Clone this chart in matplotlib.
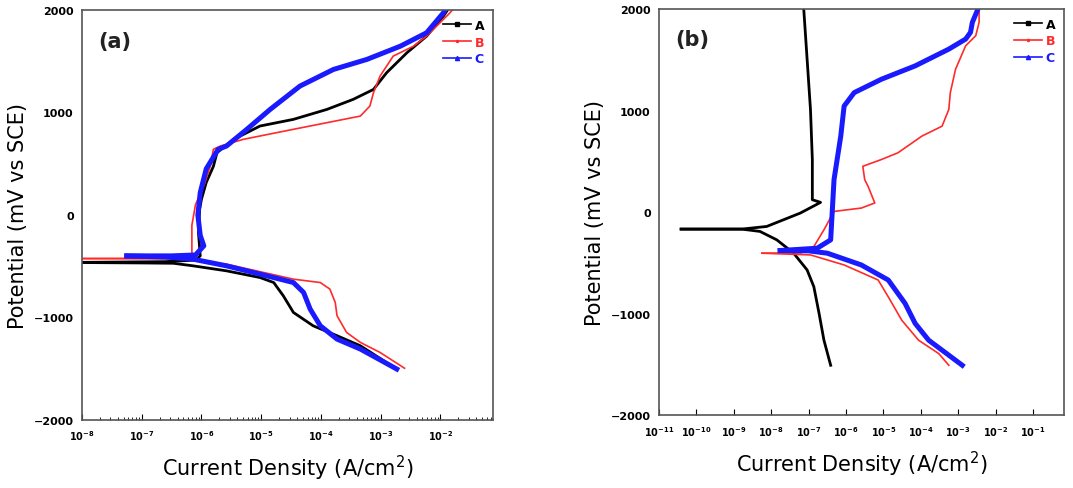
import numpy as np
import matplotlib.pyplot as plt
from matplotlib.lines import Line2D

# ---- panel (a): log10 current density (A/cm2) and potential (mV vs SCE) ----
a_A_cat_logi = [-8.0, -7.0, -6.47, -6.14, -5.58, -5.02, -4.79, -4.63, -4.46, -4.13, -3.73, -3.34, -2.73]
a_A_cat_E = [-464, -468, -471, -496, -545, -610, -659, -788, -951, -1081, -1178, -1276, -1503]
a_A_an_logi = [-8.0, -6.6, -6.1, -6.02, -6.05, -6.03, -6.0, -5.92, -5.80, -5.74, -5.46, -5.02,
               -4.46, -3.90, -3.46, -3.12, -2.90, -2.56, -2.23, -1.95, -1.88]
a_A_an_E = [-462, -455, -440, -399, -171, 56, 153, 317, 475, 608, 738, 868,
            933, 1030, 1128, 1225, 1388, 1583, 1745, 1940, 2000]

a_B_cat_logi = [-8.0, -7.0, -6.53, -6.2, -5.58, -4.46, -4.01, -3.85, -3.76, -3.73, -3.57, -3.34,
                -3.01, -2.60]
a_B_cat_E = [-425, -425, -425, -440, -480, -626, -659, -723, -853, -983, -1146, -1243,
             -1341, -1495]
a_B_an_logi = [-8.0, -6.53, -6.2, -6.16, -6.16, -6.1, -5.95, -5.85, -5.80, -5.68, -5.30, -4.46,
               -3.34, -3.18, -3.12, -3.01, -2.79, -2.45, -2.23, -1.84, -1.80]
a_B_an_E = [-425, -425, -410, -380, -100, 100, 300, 480, 641, 673, 738, 836,
            965, 1063, 1193, 1355, 1550, 1647, 1745, 1972, 2000]

a_C_cat_logi = [-7.25, -6.6, -6.14, -5.58, -5.02, -4.46, -4.29, -4.18, -4.01, -3.73, -3.34, -2.73]
a_C_cat_E = [-399, -410, -431, -496, -577, -659, -756, -918, -1081, -1211, -1308, -1503]
a_C_an_logi = [-7.25, -6.5, -6.1, -5.96, -6.02, -6.06, -6.02, -5.92, -5.72, -5.58, -5.24, -4.85,
               -4.35, -3.79, -3.23, -2.67, -2.23, -1.95, -1.92]
a_C_an_E = [-399, -399, -390, -301, -200, 0, 219, 450, 641, 673, 836, 1030,
            1258, 1420, 1518, 1647, 1778, 1972, 2000]

# ---- panel (b) ----
b_A_cat_logi = [-10.41, -8.79, -8.30, -7.85, -7.40, -7.04, -6.86, -6.72, -6.59, -6.41]
b_A_cat_E = [-166, -166, -189, -272, -403, -568, -733, -996, -1259, -1506]
b_A_an_logi = [-10.41, -8.79, -8.12, -7.22, -6.68, -6.90, -6.90, -6.95, -7.04, -7.13]
b_A_an_E = [-166, -166, -140, -8, 97, 123, 519, 1012, 1506, 2000]

b_B_cat_logi = [-8.25, -6.95, -6.05, -5.14, -4.87, -4.51, -4.06, -3.52, -3.25]
b_B_cat_E = [-403, -420, -519, -667, -832, -1062, -1259, -1391, -1506]
b_B_an_logi = [-8.25, -7.2, -6.86, -6.59, -6.32, -5.59, -5.23, -5.41, -5.50, -5.55, -5.05,
               -4.61, -3.97, -3.43, -3.25, -3.21, -3.07, -2.80, -2.53, -2.44, -2.44]
b_B_an_E = [-403, -400, -338, -173, 8, 41, 91, 255, 321, 452, 519,
            585, 749, 847, 1012, 1177, 1407, 1638, 1737, 1869, 2000]

b_C_cat_logi = [-7.76, -7.0, -6.50, -5.59, -4.87, -4.42, -4.15, -3.79, -3.25, -2.89]
b_C_cat_E = [-377, -380, -403, -519, -667, -897, -1094, -1259, -1407, -1506]
b_C_an_logi = [-7.76, -6.77, -6.41, -6.37, -6.32, -6.14, -6.05, -5.78, -5.05, -4.15, -3.25,
               -2.80, -2.67, -2.62, -2.49, -2.47]
b_C_an_E = [-377, -354, -272, -8, 321, 749, 1045, 1177, 1309, 1440, 1605,
            1704, 1770, 1869, 1983, 2000]

labels = ['A', 'B', 'C']
colors = ['black', '#ff2a2a', '#1a1aff']
widths = [2.0, 1.2, 3.6]
markers = ['s', '.', '^']

fig = plt.figure(figsize=(10.73, 4.89), dpi=100)
ax1 = fig.add_axes([0.0764, 0.1391, 0.3830, 0.8384])
ax2 = fig.add_axes([0.6142, 0.1483, 0.3774, 0.8313])

panel_a = [(a_A_cat_logi, a_A_cat_E, a_A_an_logi, a_A_an_E),
           (a_B_cat_logi, a_B_cat_E, a_B_an_logi, a_B_an_E),
           (a_C_cat_logi, a_C_cat_E, a_C_an_logi, a_C_an_E)]
panel_b = [(b_A_cat_logi, b_A_cat_E, b_A_an_logi, b_A_an_E),
           (b_B_cat_logi, b_B_cat_E, b_B_an_logi, b_B_an_E),
           (b_C_cat_logi, b_C_cat_E, b_C_an_logi, b_C_an_E)]


def draw(ax, curves, xmin, xmax, tag):
    for (cl, ce, al, ae), c, w in zip(curves, colors, widths):
        ax.plot(10.0 ** np.array(cl), ce, color=c, lw=w, solid_joinstyle='round')
        ax.plot(10.0 ** np.array(al), ae, color=c, lw=w, solid_joinstyle='round')
    ax.set_xscale('log')
    ax.set_xlim(xmin, xmax)
    ax.set_ylim(-2000, 2000)
    ax.set_yticks([-2000, -1000, 0, 1000, 2000])
    ax.set_xticks([10.0 ** k for k in range(int(np.floor(np.log10(xmin))), 1)
                   if 10.0 ** k <= xmax])
    ax.tick_params(axis='x', which='both', direction='in', labelsize=7, pad=6)
    ax.tick_params(axis='x', which='major', length=4)
    ax.tick_params(axis='x', which='minor', length=2)
    ax.tick_params(axis='y', length=0, labelsize=8, pad=6)
    for lab in ax.get_yticklabels() + ax.get_xticklabels():
        lab.set_fontweight('bold')
    for sp in ax.spines.values():
        sp.set_color('#555555')
        sp.set_linewidth(1.2)
    ax.set_xlabel('Current Density (A/cm$^2$)', fontsize=15, labelpad=8)
    ax.set_ylabel('Potential (mV vs SCE)', fontsize=15, labelpad=4)
    ax.text(0.04, 0.95, tag, transform=ax.transAxes, fontsize=15, fontweight='bold',
            va='top', ha='left', color='#222222')
    handles = [Line2D([0], [0], color=c, lw=1.2, marker=m, markersize=3)
               for c, m in zip(colors, markers)]
    leg = ax.legend(handles, labels, loc='upper right', frameon=False, fontsize=9,
                    handlelength=2.2, handletextpad=0.3, labelspacing=0.3,
                    borderaxespad=0.3, numpoints=1)
    for t, c in zip(leg.get_texts(), colors):
        t.set_color(c)
        t.set_fontweight('bold')


draw(ax1, panel_a, 1e-8, 10 ** -1.12, '(a)')
draw(ax2, panel_b, 1e-11, 10 ** -0.17, '(b)')

fig.savefig('out.png', dpi=100)
